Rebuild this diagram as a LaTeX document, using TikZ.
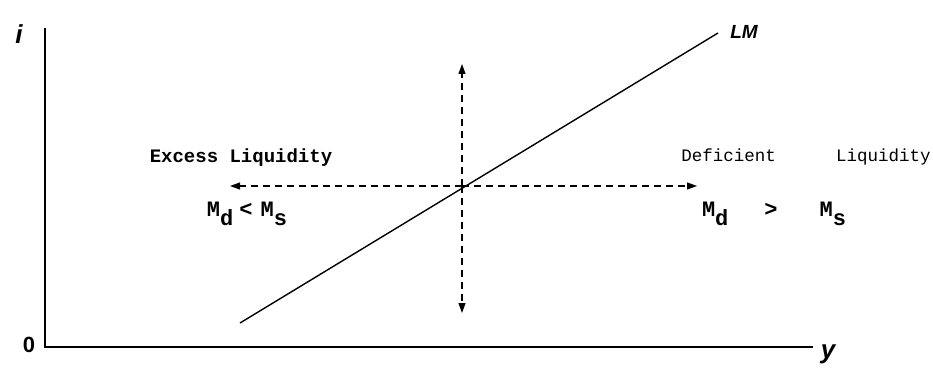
\documentclass[tikz,border=0pt]{standalone}
\usepackage{fontspec}
\setmonofont{Liberation Mono}
\setsansfont{Liberation Sans}
\usepackage{tikz}
\usetikzlibrary{arrows.meta,positioning}

\newcommand{\Mlow}[1]{M\raisebox{-0.8ex}{#1}}

\begin{document}
\begin{tikzpicture}[>={Triangle[length=10pt,width=7pt]}, x=1pt, y=-1pt,
    axis/.style={line width=1.8pt},
    curve/.style={line width=1.4pt},
    pressure/.style={->, line width=1.1pt, dash pattern=on 7pt off 5pt},
    lbl/.style={font=\sffamily\bfseries\itshape\fontsize{26}{28}\selectfont, inner sep=0pt},
    side/.style={font=\ttfamily\bfseries\fontsize{19}{22}\selectfont, inner sep=0pt},
    mside/.style={font=\ttfamily\bfseries\fontsize{22}{24}\selectfont, inner sep=0pt},
    note/.style={font=\ttfamily\fontsize{17.5}{20}\selectfont, inner sep=0pt}]
  \useasboundingbox (0,0) rectangle (933,374);
  % axes
  \coordinate (O) at (45,347);
  \coordinate (itop) at (45,28);
  \coordinate (yend) at (813,347);
  \draw[axis] (itop) -- (O) -- (yend);
  \node[lbl] (ilab) at (19,34) {i};
  \node[lbl, font=\sffamily\bfseries\fontsize{22}{24}\selectfont] (olab) at (29,345) {0};
  \node[lbl] (ylab) at (828,354) {y};
  % LM schedule
  \coordinate (lmA) at (240,323);
  \coordinate (lmB) at (718,33);
  \draw[curve] (lmA) -- (lmB);
  \node[lbl, font=\sffamily\bfseries\itshape\fontsize{19}{21}\selectfont] (lmlab) at (744,32) {LM};
  % disequilibrium arrows
  \coordinate (E) at (462,186);
  \coordinate (left) at (230,186);
  \coordinate (right) at (697,186);
  \coordinate (up) at (462,64);
  \coordinate (down) at (462,313);
  \draw[pressure] (E) -- (left);
  \draw[pressure] (E) -- (right);
  \draw[pressure] (E) -- (up);
  \draw[pressure] (E) -- (down);
  % texts
  \node[side] (excess) at (241,158) {Excess Liquidity};
  \node[note] (deficient) at (806,157) {Deficient\hspace{60pt}Liquidity};
  \node[mside] (lowside) at (247,214) {\Mlow{d}\hspace{6pt}<\hspace{8pt}\Mlow{s}};
  \node[mside] (highside) at (774,214) {\Mlow{d}\hspace{36pt}>\hspace{42pt}\Mlow{s}};
\end{tikzpicture}
\end{document}
